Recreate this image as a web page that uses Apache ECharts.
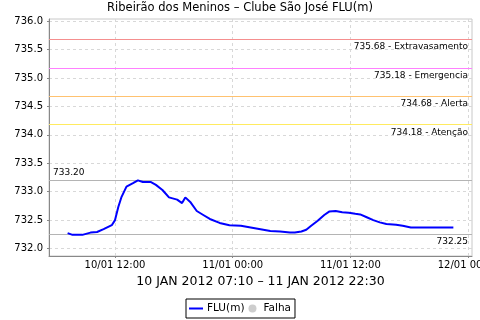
<!DOCTYPE html>
<html><head><meta charset="utf-8">
<script src="https://cdn.jsdelivr.net/npm/echarts@6/dist/echarts.min.js"></script>
<style>html,body{margin:0;padding:0;background:#fff}#c{width:480px;height:320px}</style>
</head><body><div id="c"></div>
<script>
var title = 'Ribeirão dos Meninos – Clube São José FLU(m)';
var xName = '10 JAN 2012 07:10 – 11 JAN 2012 22:30';
var times = ['2012-01-10 07:10','2012-01-10 07:40','2012-01-10 08:40','2012-01-10 09:30','2012-01-10 10:10','2012-01-10 10:50','2012-01-10 11:40','2012-01-10 12:00','2012-01-10 12:20','2012-01-10 12:40','2012-01-10 13:10','2012-01-10 13:50','2012-01-10 14:20','2012-01-10 14:50','2012-01-10 15:40','2012-01-10 16:10','2012-01-10 16:50','2012-01-10 17:30','2012-01-10 18:20','2012-01-10 18:50','2012-01-10 19:10','2012-01-10 19:40','2012-01-10 20:20','2012-01-10 21:00','2012-01-10 21:40','2012-01-10 22:40','2012-01-10 23:40','2012-01-11 00:50','2012-01-11 01:50','2012-01-11 02:50','2012-01-11 03:50','2012-01-11 04:50','2012-01-11 05:50','2012-01-11 06:20','2012-01-11 07:00','2012-01-11 07:30','2012-01-11 08:00','2012-01-11 08:40','2012-01-11 09:20','2012-01-11 09:50','2012-01-11 10:30','2012-01-11 11:10','2012-01-11 11:50','2012-01-11 12:30','2012-01-11 13:00','2012-01-11 13:40','2012-01-11 14:20','2012-01-11 15:00','2012-01-11 15:40','2012-01-11 16:40','2012-01-11 17:20','2012-01-11 18:10','2012-01-11 19:50','2012-01-11 22:30'];
var flu = [732.27,732.24,732.24,732.28,732.29,732.34,732.41,732.50,732.73,732.91,733.09,733.15,733.20,733.17,733.17,733.12,733.03,732.90,732.86,732.80,732.90,732.82,732.66,732.59,732.52,732.45,732.41,732.40,732.37,732.34,732.31,732.30,732.28,732.28,732.30,732.33,732.40,732.49,732.59,732.65,732.66,732.64,732.63,732.61,732.60,732.55,732.50,732.46,732.43,732.42,732.40,732.37,732.37,732.37];
var levelValues = [735.68, 735.18, 734.68, 734.18];
var levelNames = ['Extravasamento','Emergencia','Alerta','Atenção'];
var levelColors = ['#f58f8f','#ff80ff','#ffc270','#ffeb60'];
var peakValue = 733.20;
var baseValue = 732.25;
var yTicks = [732.0,732.5,733.0,733.5,734.0,734.5,735.0,735.5,736.0];
var xTicks = ['2012-01-10 12:00','2012-01-11 00:00','2012-01-11 12:00','2012-01-12 00:00'];
var xMin = '2012-01-10 05:16', xMax = '2012-01-12 00:24';
var yMin = 731.868, yMax = 736.0405;

var origin = '2012-01-10 00:00';
function hrs(s){
  var m = s.match(/(\d+)-(\d+)-(\d+) (\d+):(\d+)/);
  var o = origin.match(/(\d+)-(\d+)-(\d+) (\d+):(\d+)/);
  return (Date.UTC(+m[1],+m[2]-1,+m[3],+m[4],+m[5]) - Date.UTC(+o[1],+o[2]-1,+o[3],+o[4],+o[5]))/3600000;
}
function fmtX(h){
  var o = origin.match(/(\d+)-(\d+)-(\d+)/);
  var d = new Date(Date.UTC(+o[1],+o[2]-1,+o[3]) + Math.round(h*3600000));
  function p(n){return (n<10?'0':'')+n;}
  return p(d.getUTCDate())+'/'+p(d.getUTCMonth()+1)+' '+p(d.getUTCHours())+':'+p(d.getUTCMinutes());
}
var font = 'DejaVu Sans';
var data = times.map(function(t,i){ return [hrs(t), flu[i]]; });
var mlData = levelValues.map(function(v,i){
  return {yAxis: v, lineStyle:{color: levelColors[i]},
    label:{formatter: v.toFixed(2) + ' - ' + levelNames[i], position:'insideEndBottom'}};
});
mlData.push({yAxis: peakValue, lineStyle:{color:'#b4b4b4'}, label:{formatter: peakValue.toFixed(2), position:'insideStartTop'}});
mlData.push({yAxis: baseValue, lineStyle:{color:'#b4b4b4'}, label:{formatter: baseValue.toFixed(2), position:'insideEndBottom'}});

var chart = echarts.init(document.getElementById('c'), null, {renderer:'canvas'});
chart.setOption({
  animation:false,
  backgroundColor:'#fff',
  textStyle:{fontFamily:font},
  title:{text:title, left:'center', top:2, padding:0, textStyle:{fontSize:11.5, fontWeight:'normal', color:'#000', fontFamily:font}},
  grid:{left:49, right:8, top:19, bottom:64, show:true, borderColor:'#c8c8c8', borderWidth:1, backgroundColor:'#fff', containLabel:false, outerBoundsMode:'none'},
  legend:{bottom:2, left:'center', orient:'horizontal', borderColor:'#000', borderWidth:1, padding:[4,4,4,3], itemGap:4, itemWidth:14, itemHeight:8, borderRadius:0,
    textStyle:{fontSize:10.5, color:'#000', fontFamily:font, padding:[0,0,0,-1]},
    data:[{name:'FLU(m)', icon:'path://M0,0 H14 V2 H0 Z'},{name:'Falha', icon:'circle'}]},
  xAxis:{type:'value', min:hrs(xMin), max:hrs(xMax),
    name:xName, nameLocation:'middle', nameGap:18, nameTextStyle:{fontSize:12.5, color:'#000', fontFamily:font},
    axisLine:{lineStyle:{color:'#888', width:1}},
    axisTick:{show:true, length:2, lineStyle:{color:'#888'}, customValues: xTicks.map(hrs)},
    axisLabel:{fontSize:10, color:'#000', margin:4, customValues: xTicks.map(hrs), hideOverlap:false, formatter:fmtX},
    splitLine:{show:true, lineStyle:{color:'#d8d8d8', type:[3,3], width:1}}},
  yAxis:{type:'value', min:yMin, max:yMax,
    axisLine:{show:true, lineStyle:{color:'#888', width:1}},
    axisTick:{show:true, length:2, lineStyle:{color:'#888'}, customValues: yTicks},
    axisLabel:{fontSize:10, color:'#000', margin:6, customValues: yTicks, formatter:function(v){return v.toFixed(1);}},
    splitLine:{show:true, lineStyle:{color:'#d8d8d8', type:[3,3], width:1}}},
  series:[
    {name:'FLU(m)', type:'line', data:data, symbol:'none', color:'#0000ff', lineStyle:{color:'#0000ff', width:2}, z:5,
     markLine:{silent:true, symbol:['none','none'], animation:false,
       lineStyle:{type:'solid', width:1},
       label:{fontSize:9, color:'#000', fontFamily:font, distance:[4,3]},
       data: mlData}},
    {name:'Falha', type:'scatter', data:[], color:'#c0c0c0', itemStyle:{color:'#c0c0c0'}}
  ]
});
</script></body></html>
